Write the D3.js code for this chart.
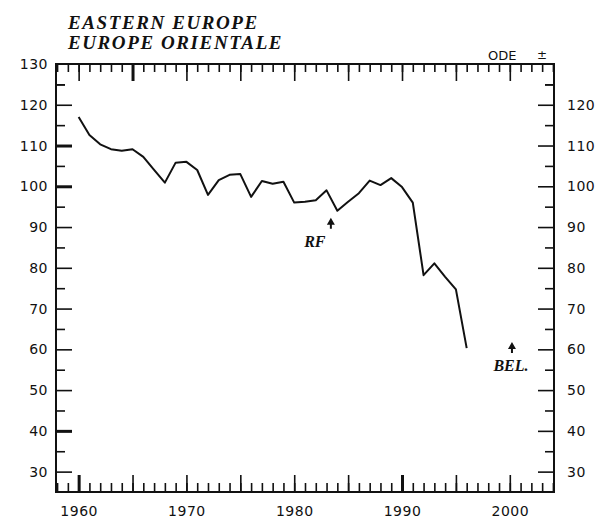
<!DOCTYPE html>
<html><head><meta charset="utf-8">
<script src="https://cdn.jsdelivr.net/npm/d3@7"></script>
<style>
body{margin:0;background:#fff;}
svg{display:block;}
.tick text{font-family:"DejaVu Sans",sans-serif;font-size:14px;fill:#111;letter-spacing:0.5px;}
</style></head>
<body><svg id="c" width="600" height="524"></svg>
<script>
const years = [1960,1961,1962,1963,1964,1965,1966,1967,1968,1969,1970,1971,1972,1973,1974,1975,1976,1977,1978,1979,1980,1981,1982,1983,1984,1985,1986,1987,1988,1989,1990,1991,1992,1993,1994,1995,1996];
const values = [117.0,112.6,110.3,109.1,108.7,109.1,107.2,104.0,100.9,105.8,106.0,104.0,97.9,101.5,102.8,103.0,97.4,101.3,100.6,101.1,96.0,96.2,96.6,99.0,94.0,96.2,98.3,101.4,100.3,102.0,99.8,96.0,78.2,81.1,77.8,74.7,60.3];
const yTickLabels = [30,40,50,60,70,80,90,100,110,120,130];
const xTickLabels = [1960,1970,1980,1990,2000];
const titleLines = ["EASTERN EUROPE","EUROPE ORIENTALE"];
const annotations = [{label:"RF", year:1983.4, value:92.3},{label:"BEL.", year:2000.2, value:61.8}];

const svg = d3.select("#c");
const L=56, R=554, T=64, B=492;
const x = d3.scaleLinear().domain([1957.9,2004.1]).range([L,R]);
const y = d3.scaleLinear().domain([25,130]).range([B,T]);

const allYears = d3.range(1958,2005);
const fiveYears = allYears.filter(d=>d%5===0);
const minorY = d3.range(30,130,5).filter(d=>d%10!==0).concat([125]);

function ax(gen, tx, ty){
  const g = svg.append("g").attr("transform",`translate(${tx},${ty})`).call(gen);
  g.select(".domain").remove();
  g.selectAll(".tick line").attr("stroke","#111").attr("stroke-width",1.6);
  return g;
}
// bottom ticks
ax(d3.axisTop(x).tickValues(allYears).tickSize(9).tickFormat(""),0,B);
const bm = ax(d3.axisTop(x).tickValues(fiveYears).tickSize(17).tickFormat(""),0,B);
bm.selectAll(".tick line").attr("stroke-width",d=>(d===1960||d===1990)?3:1.6);
// top ticks
ax(d3.axisBottom(x).tickValues(allYears).tickSize(8).tickFormat(""),0,T);
const tm = ax(d3.axisBottom(x).tickValues(fiveYears).tickSize(17).tickFormat(""),0,T);
tm.selectAll(".tick line").attr("stroke-width",d=>(d===1965)?3:1.6);
// x labels
const xl = ax(d3.axisBottom(x).tickValues(xTickLabels).tickSize(0).tickPadding(14).tickFormat(d3.format("d")),0,B);
xl.selectAll(".tick text").style("font-size","14px");
// left ticks
const lm = ax(d3.axisRight(y).tickValues(yTickLabels.filter(d=>d<130)).tickSize(16).tickFormat(""),L,0);
lm.selectAll(".tick line").attr("stroke-width",d=>(d===110||d===100||d===40)?3:1.6);
ax(d3.axisRight(y).tickValues(minorY).tickSize(9).tickFormat(""),L,0);
ax(d3.axisLeft(y).tickValues(yTickLabels).tickSize(0).tickPadding(8),L,0);
// right ticks
ax(d3.axisLeft(y).tickValues(yTickLabels.filter(d=>d<130)).tickSize(16).tickFormat(""),R,0);
ax(d3.axisRight(y).tickValues(yTickLabels.filter(d=>d<130)).tickSize(0).tickPadding(13),R,0);
ax(d3.axisLeft(y).tickValues(minorY).tickSize(9).tickFormat(""),R,0);

// frame
svg.append("rect").attr("x",L).attr("y",T).attr("width",R-L).attr("height",B-T)
  .attr("fill","none").attr("stroke","#111").attr("stroke-width",2);

// line
svg.append("path").datum(years.map((d,i)=>[d,values[i]]))
  .attr("fill","none").attr("stroke","#111").attr("stroke-width",2)
  .attr("stroke-linejoin","round")
  .attr("d",d3.line().x(d=>x(d[0])).y(d=>y(d[1])));

// title
svg.append("g").selectAll("text").data(titleLines).join("text")
  .attr("x",68).attr("y",(d,i)=>29+i*20)
  .style("font-family","'Liberation Serif',serif").style("font-weight","bold").style("font-style","italic")
  .style("font-size","19px").style("letter-spacing","1.6px").attr("fill","#111")
  .text(d=>d);

svg.append("text").attr("x",488).attr("y",60)
  .style("font-family","'DejaVu Sans',sans-serif").style("font-size","13px").attr("fill","#111").text("ODE");
svg.append("text").attr("x",537).attr("y",59)
  .style("font-family","'DejaVu Sans',sans-serif").style("font-size","12px").attr("fill","#111").text("±");

// annotations
const labelShift = lbl => lbl==="RF" ? -16 : -1;
const an = svg.append("g").selectAll("g").data(annotations).join("g")
  .attr("transform",d=>`translate(${x(d.year)},${y(d.value)})`);
an.append("path").attr("d","M0,0 L-4,7 L4,7 Z M-1,7 L1,7 L1,11 L-1,11 Z").attr("fill","#111");
an.append("text").attr("x",d=>labelShift(d.label)).attr("y",29).attr("text-anchor","middle")
  .style("font-family","'Liberation Serif',serif").style("font-weight","bold").style("font-style","italic")
  .style("font-size","16px").attr("fill","#111").text(d=>d.label);
</script></body></html>
